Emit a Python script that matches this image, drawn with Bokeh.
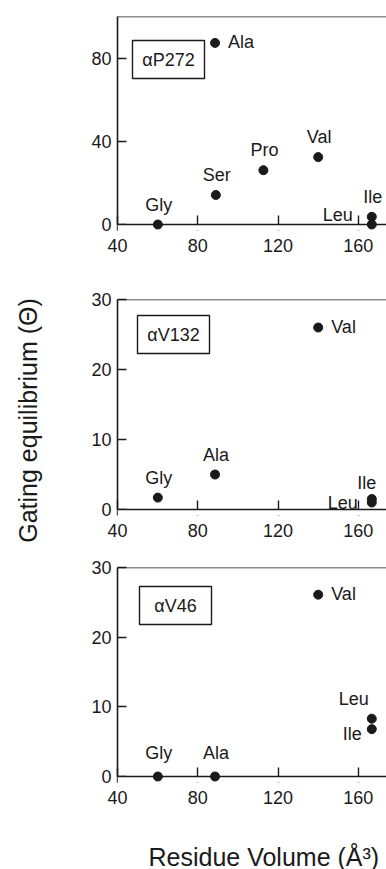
import math
from bokeh.plotting import figure
from bokeh.models import Range1d, Label, BoxAnnotation, Span, FixedTicker
from bokeh.layouts import column, row
from bokeh.embed import file_html
from bokeh.resources import INLINE

# ---------------- data ----------------
x_ticks = [40, 80, 120, 160]

residues_p272 = ["Gly", "Ala", "Ser", "Pro", "Val", "Ile", "Leu"]
volume_p272 = [60.1, 88.6, 89.0, 112.7, 140.0, 166.7, 166.7]
theta_p272 = [0.0, 87.3, 14.2, 26.1, 32.4, 3.7, 0.0]
yticks_p272 = [0, 40, 80]

residues_v132 = ["Gly", "Ala", "Val", "Ile", "Leu"]
volume_v132 = [60.1, 88.6, 140.0, 166.7, 166.7]
theta_v132 = [1.7, 5.0, 26.0, 1.5, 1.0]
yticks_v132 = [0, 10, 20, 30]

residues_v46 = ["Gly", "Ala", "Val", "Leu", "Ile"]
volume_v46 = [60.1, 88.6, 140.0, 166.7, 166.7]
theta_v46 = [0.0, 0.0, 26.1, 8.3, 6.8]
yticks_v46 = [0, 10, 20, 30]

y_title = "Gating equilibrium (\u0398)"
x_title = "Residue Volume (\u00c5\u00b3)"

# ---------------- styling ----------------
FONT = "Liberation Sans"
INK = "#1a1a1a"
FS = "18px"
TITLE_FS = "25px"
YT_W = 50        # width of the strip holding the vertical title
FRAME_W = 269
LEFT = 117 - YT_W
PAD = 6          # px of frame kept below the zero line so dots are not cut
TICK = 9

# label placement keyword per point: (text_align, text_baseline, dx, dy)
PLACE = {
    "above": ("center", "bottom", 1, 10),
    "above2": ("center", "bottom", 1, 14),
    "aboveclose": ("center", "bottom", -5, 6),
    "aboveleft": ("center", "bottom", -18, 10),
    "right": ("left", "middle", 13, 1),
    "left": ("right", "middle", -14, 0),
    "upleft": ("right", "middle", -19, 10),
    "downleft": ("right", "middle", -10, -5),
}
place_p272 = ["above", "right", "above", "above", "above", "above", "upleft"]
place_v132 = ["above", "above", "right", "aboveclose", "left"]
place_v46 = ["above2", "above2", "right", "aboveleft", "downleft"]


def blank(width, height):
    f = figure(width=width, height=height, x_axis_type=None, y_axis_type=None,
               x_range=Range1d(0, 1), y_range=Range1d(0, 1),
               output_backend="svg", toolbar_location=None, min_border=0)
    f.outline_line_color = None
    f.grid.visible = False
    return f


def panel(names, xs, ys, places, yticks, ymax, frame_h, top, bottom,
          tag, tag_cx, tag_cy):
    ppu = frame_h / ymax
    pad_units = PAD / ppu
    p = figure(width=LEFT + FRAME_W, height=top + frame_h + PAD + bottom,
               x_range=Range1d(40, 40 + FRAME_W / 2.007),
               y_range=Range1d(-pad_units, ymax),
               output_backend="svg", toolbar_location=None,
               min_border_left=LEFT, min_border_right=0,
               min_border_top=top, min_border_bottom=bottom)
    p.outline_line_color = None
    p.grid.visible = False
    p.background_fill_color = "white"
    for ax in (p.xaxis[0], p.yaxis[0]):
        ax.axis_line_color = INK
        ax.axis_line_width = 1.6
        ax.major_tick_line_color = INK
        ax.major_tick_line_width = 1.4
        ax.major_tick_out = 0
        ax.minor_tick_line_color = None
        ax.major_label_text_font = FONT
        ax.major_label_text_font_size = FS
        ax.major_label_text_color = INK
    xa, ya = p.xaxis[0], p.yaxis[0]
    xa.ticker = FixedTicker(ticks=x_ticks)
    ya.ticker = FixedTicker(ticks=yticks)
    ya.bounds = (0, ymax)
    ya.major_tick_in = TICK
    ya.major_label_standoff = 6
    xa.axis_line_color = None
    xa.major_tick_in = TICK + PAD
    xa.major_label_standoff = 8
    # mask the part of the x ticks below the zero line
    p.add_layout(BoxAnnotation(top=0, fill_color="white", fill_alpha=1,
                               line_color=None))
    p.add_layout(Span(location=0, dimension="width",
                      line_color=INK, line_width=1.6))
    p.add_layout(Span(location=ymax, dimension="width",
                      line_color=INK, line_width=1.6))
    r = p.scatter(xs, ys, size=9, color=INK)
    r.level = "overlay"
    for n, x, y, pl in zip(names, xs, ys, places):
        al, bl, dx, dy = PLACE[pl]
        p.add_layout(Label(x=x, y=y, text=n, x_offset=dx, y_offset=dy,
                           text_align=al, text_baseline=bl,
                           text_font=FONT, text_font_size=FS,
                           text_color=INK))
    # boxed tag
    p.add_layout(BoxAnnotation(left=tag_cx - 36, right=tag_cx + 36,
                               bottom=tag_cy - 19, top=tag_cy + 19,
                               left_units="screen", right_units="screen",
                               top_units="screen", bottom_units="screen",
                               fill_color="white", fill_alpha=1,
                               line_color=INK, line_alpha=1, line_width=1.4))
    p.add_layout(Label(x=tag_cx, y=tag_cy, x_units="screen", y_units="screen",
                       text=tag, text_align="center", text_baseline="middle",
                       text_font=FONT, text_font_size=FS, text_color=INK))
    return p


p1 = panel(residues_p272, volume_p272, theta_p272, place_p272, yticks_p272,
           100, 208, 16, 40, "\u03b1P272", 51, 165 + PAD)
p2 = panel(residues_v132, volume_v132, theta_v132, place_v132, yticks_v132,
           30, 210, 29, 25, "\u03b1V132", 56, 175 + PAD)
p3 = panel(residues_v46, volume_v46, theta_v46, place_v46, yticks_v46,
           30, 209, 27, 30, "\u03b1V46", 58, 171 + PAD)

total_h = 869
cols_h = p1.height + p2.height + p3.height
xt = blank(LEFT + FRAME_W, total_h - cols_h)
# this strip's frame is aligned with the panels' frames (left edge at x=117)
xt.add_layout(Label(x=148 - 117, y=13, x_units="screen", y_units="screen",
                    text=x_title, text_align="left", text_baseline="middle",
                    text_font=FONT, text_font_size=TITLE_FS, text_color=INK))

yt = blank(YT_W, total_h)
yt.add_layout(Label(x=27, y=total_h - 420, x_units="screen", y_units="screen",
                    text=y_title, angle=math.pi / 2,
                    text_align="center", text_baseline="middle",
                    text_font=FONT, text_font_size=TITLE_FS, text_color=INK))

layout = row(yt, column(p1, p2, p3, xt, spacing=0), spacing=0)
open("out.html", "w").write(file_html(layout, INLINE))
